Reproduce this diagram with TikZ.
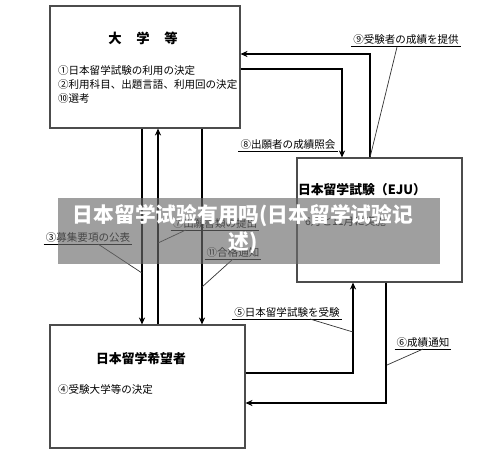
\documentclass[tikz,border=0pt]{standalone}
\usepackage{fontspec}
\newfontfamily\jpfont{Noto Sans CJK JP}
\newfontfamily\wmfont{Noto Sans CJK SC}
\usetikzlibrary{arrows.meta}
\tikzset{
  boxnode/.style={draw=black!70,line width=0.6pt,inner sep=0pt},
  conn/.style={line width=0.7pt},
  tip/.style={-{Stealth[length=4pt,width=3.5pt]}},
  lbl/.style={font=\jpfont\fontsize{6}{7}\selectfont,inner sep=1pt},
  ttl/.style={font=\jpfont\bfseries\fontsize{7.3}{9}\selectfont,inner sep=0pt},
  leader/.style={line width=0.4pt,black!80}
}
\begin{document}
\begin{tikzpicture}[x=0.02cm,y=-0.02cm]
                \useasboundingbox (0,0) rectangle (500,464);
                % boxes
                \node[boxnode,minimum width=3.8cm,minimum height=2.44cm] (univ) at (145,67) {};
                \node[boxnode,minimum width=3.3cm,minimum height=2.48cm] (eju) at (379.5,220) {};
                \node[boxnode,minimum width=3.9cm,minimum height=2.46cm] (appl) at (147.5,386.5) {};
                % texts in boxes
                \node[ttl,font=\jpfont\bfseries\fontsize{7.6}{9}\selectfont] (univT) at (143,38) {大\hspace{1.1em}学\hspace{1.1em}等};
                \node[lbl,anchor=west] (u1) at (56,70) {①日本留学試験の利用の決定};
                \node[lbl,anchor=west] (u2) at (56,84) {②利用科目、出題言語、利用回の決定};
                \node[lbl,anchor=west] (u3) at (56,98) {⑩選考};
                \node[ttl] (ejuT) at (362,190) {日本留学試験（EJU）};
                \node[lbl,anchor=west] (e1) at (303,221) {6月と11月に実施};
                \node[ttl] (applT) at (141,359) {日本留学希望者};
                \node[lbl,anchor=west] (a1) at (56,389) {④受験大学等の決定};
                % connectors between boxes
                \coordinate (c9) at (370,54);
                \coordinate (c8) at (342,69);
                \coordinate (c5) at (353,373);
                \coordinate (c6) at (386,403);
                \draw[conn,tip] (eju.north -| c9) -- (c9) -- (univ.east |- c9);
                \draw[conn,tip] (univ.east |- c8) -- (c8) -- (eju.north -| c8);
                \draw[conn,tip] (appl.east |- c5) -- (c5) -- (eju.south -| c5);
                \draw[conn,tip] (eju.south -| c6) -- (c6) -- (appl.east |- c6);
                \coordinate (v3) at (142,0);
                \coordinate (v7) at (158,0);
                \coordinate (v11) at (202,0);
                \draw[conn,tip] (univ.south -| v3) -- (appl.north -| v3);
                \draw[conn,tip] (appl.north -| v7) -- (univ.south -| v7);
                \draw[conn,line width=0.9pt,tip] (univ.south -| v11) -- (appl.north -| v11);
                % labels
                \node[lbl] (l9) at (406,39) {⑨受験者の成績を提供};
                \node[lbl] (l8) at (288,144) {⑧出願者の成績照会};
                \node[lbl] (l5) at (287,312) {⑤日本留学試験を受験};
                \node[lbl] (l6) at (423,342) {⑥成績通知};
                \node[lbl] (l3) at (88,237) {③募集要項の公表};
                \node[lbl] (l7) at (215,223) {⑦出願書類の提出};
                \node[lbl] (l11) at (233,252) {⑪合格通知};
                \foreach \l in {l9,l8,l5,l6,l3,l7,l11}
                  \draw[line width=0.5pt] (\l.south west) -- (\l.south east);
                \draw[leader] (397,47) -- (eju.north -| c9) ++(0,-82);
                \draw[leader] (l3.south) ++(10,0) -- (142,273);
                \draw[leader] (l7.south west) ++(15,0) -- (158,243);
                \draw[leader] (l11.south) -- (202,287);
                \draw[leader] (l5.south) ++(23,0) -- (353,332);
                \draw[leader] (l6.south) -- (387,365);
                % watermark band
                \fill[black!58,opacity=0.65] (58,198) rectangle (440,264);
                \node[text=white,font=\wmfont\bfseries\fontsize{11.8}{15.5}\selectfont,align=center] (wm) at (243,229) {日本留学试验有用吗(日本留学试验记\\述)};
            \end{tikzpicture}
\end{document}
